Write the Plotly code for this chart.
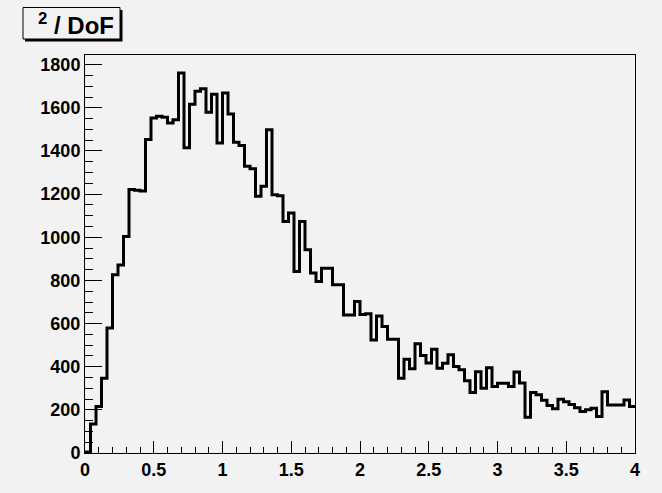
import plotly.graph_objects as go

# Histogram contents: 100 bins of chi2/DoF between 0 and 4
counts = [
    5, 135, 215, 347, 579, 826, 872, 1004, 1222, 1218,
    1215, 1453, 1553, 1561, 1556, 1530, 1545, 1762, 1415, 1617,
    1677, 1688, 1580, 1663, 1437, 1669, 1572, 1440, 1425, 1329,
    1318, 1190, 1237, 1499, 1197, 1192, 1073, 1112, 841, 1073,
    942, 835, 795, 857, 857, 780, 780, 640, 640, 702,
    642, 645, 524, 635, 586, 527, 527, 347, 435, 390,
    506, 452, 417, 481, 393, 416, 455, 401, 386, 335,
    280, 377, 300, 395, 308, 323, 323, 308, 375, 325,
    166, 280, 270, 245, 220, 205, 249, 238, 225, 210,
    192, 200, 207, 169, 284, 223, 223, 223, 246, 215,
]
x_low, x_high = 0.0, 4.0
title_text = "<sup>2</sup> / DoF"

n_bins = len(counts)
bin_w = (x_high - x_low) / n_bins
edges = [x_low + i * bin_w for i in range(n_bins + 1)]

# step outline: start on the axis, one point per bin low edge, close at the last edge
xs = [edges[0]] + edges
ys = [0] + counts + [counts[-1]]

bg = "#f2f2f2"
tick_font = dict(family="Liberation Sans", size=18, color="black", weight="bold")

fig = go.Figure()
fig.add_trace(go.Scatter(
    x=xs, y=ys, mode="lines",
    line=dict(color="black", width=3, shape="hv"),
    showlegend=False, hoverinfo="skip",
))

W, H = 662, 493
L, R, T, B = 85, 27, 55, 40
pw, ph = W - L - R, H - T - B


def px(xp):
    return (xp - L) / pw


def py(yp):
    return (H - B - yp) / ph


shapes = [
    # title box with drop shadow
    dict(type="rect", xref="paper", yref="paper",
         x0=px(25), x1=px(122.5), y0=py(41.5), y1=py(10),
         fillcolor="black", line=dict(width=0), layer="above"),
    dict(type="rect", xref="paper", yref="paper",
         x0=px(23), x1=px(120), y0=py(39), y1=py(7.5),
         fillcolor=bg, line=dict(color="black", width=1), layer="above"),
]

fig.update_layout(
    width=W, height=H,
    margin=dict(l=L, r=R, t=T, b=B, pad=0),
    paper_bgcolor=bg, plot_bgcolor=bg,
    shapes=shapes,
    annotations=[dict(
        text=title_text, xref="paper", yref="paper",
        x=px(36), y=py(24), xanchor="left", yanchor="middle",
        showarrow=False,
        font=dict(family="Liberation Sans", size=24, color="black", weight="bold"),
    )],
    xaxis=dict(
        range=[x_low, x_high], tick0=0, dtick=0.5,
        ticks="inside", ticklen=12, tickwidth=1, tickcolor="black",
        showgrid=False, zeroline=False,
        showline=True, linecolor="black", linewidth=1, mirror=True,
        tickfont=tick_font,
        minor=dict(dtick=0.1, ticks="inside", ticklen=6, tickcolor="black", showgrid=False),
    ),
    yaxis=dict(
        range=[0, 1845], tick0=0, dtick=200,
        ticks="inside", ticklen=17, tickwidth=1, tickcolor="black",
        showgrid=False, zeroline=False,
        showline=True, linecolor="black", linewidth=1, mirror=True,
        tickfont=tick_font,
        minor=dict(dtick=50, ticks="inside", ticklen=8, tickcolor="black", showgrid=False),
    ),
)

fig.write_html("out.html")
